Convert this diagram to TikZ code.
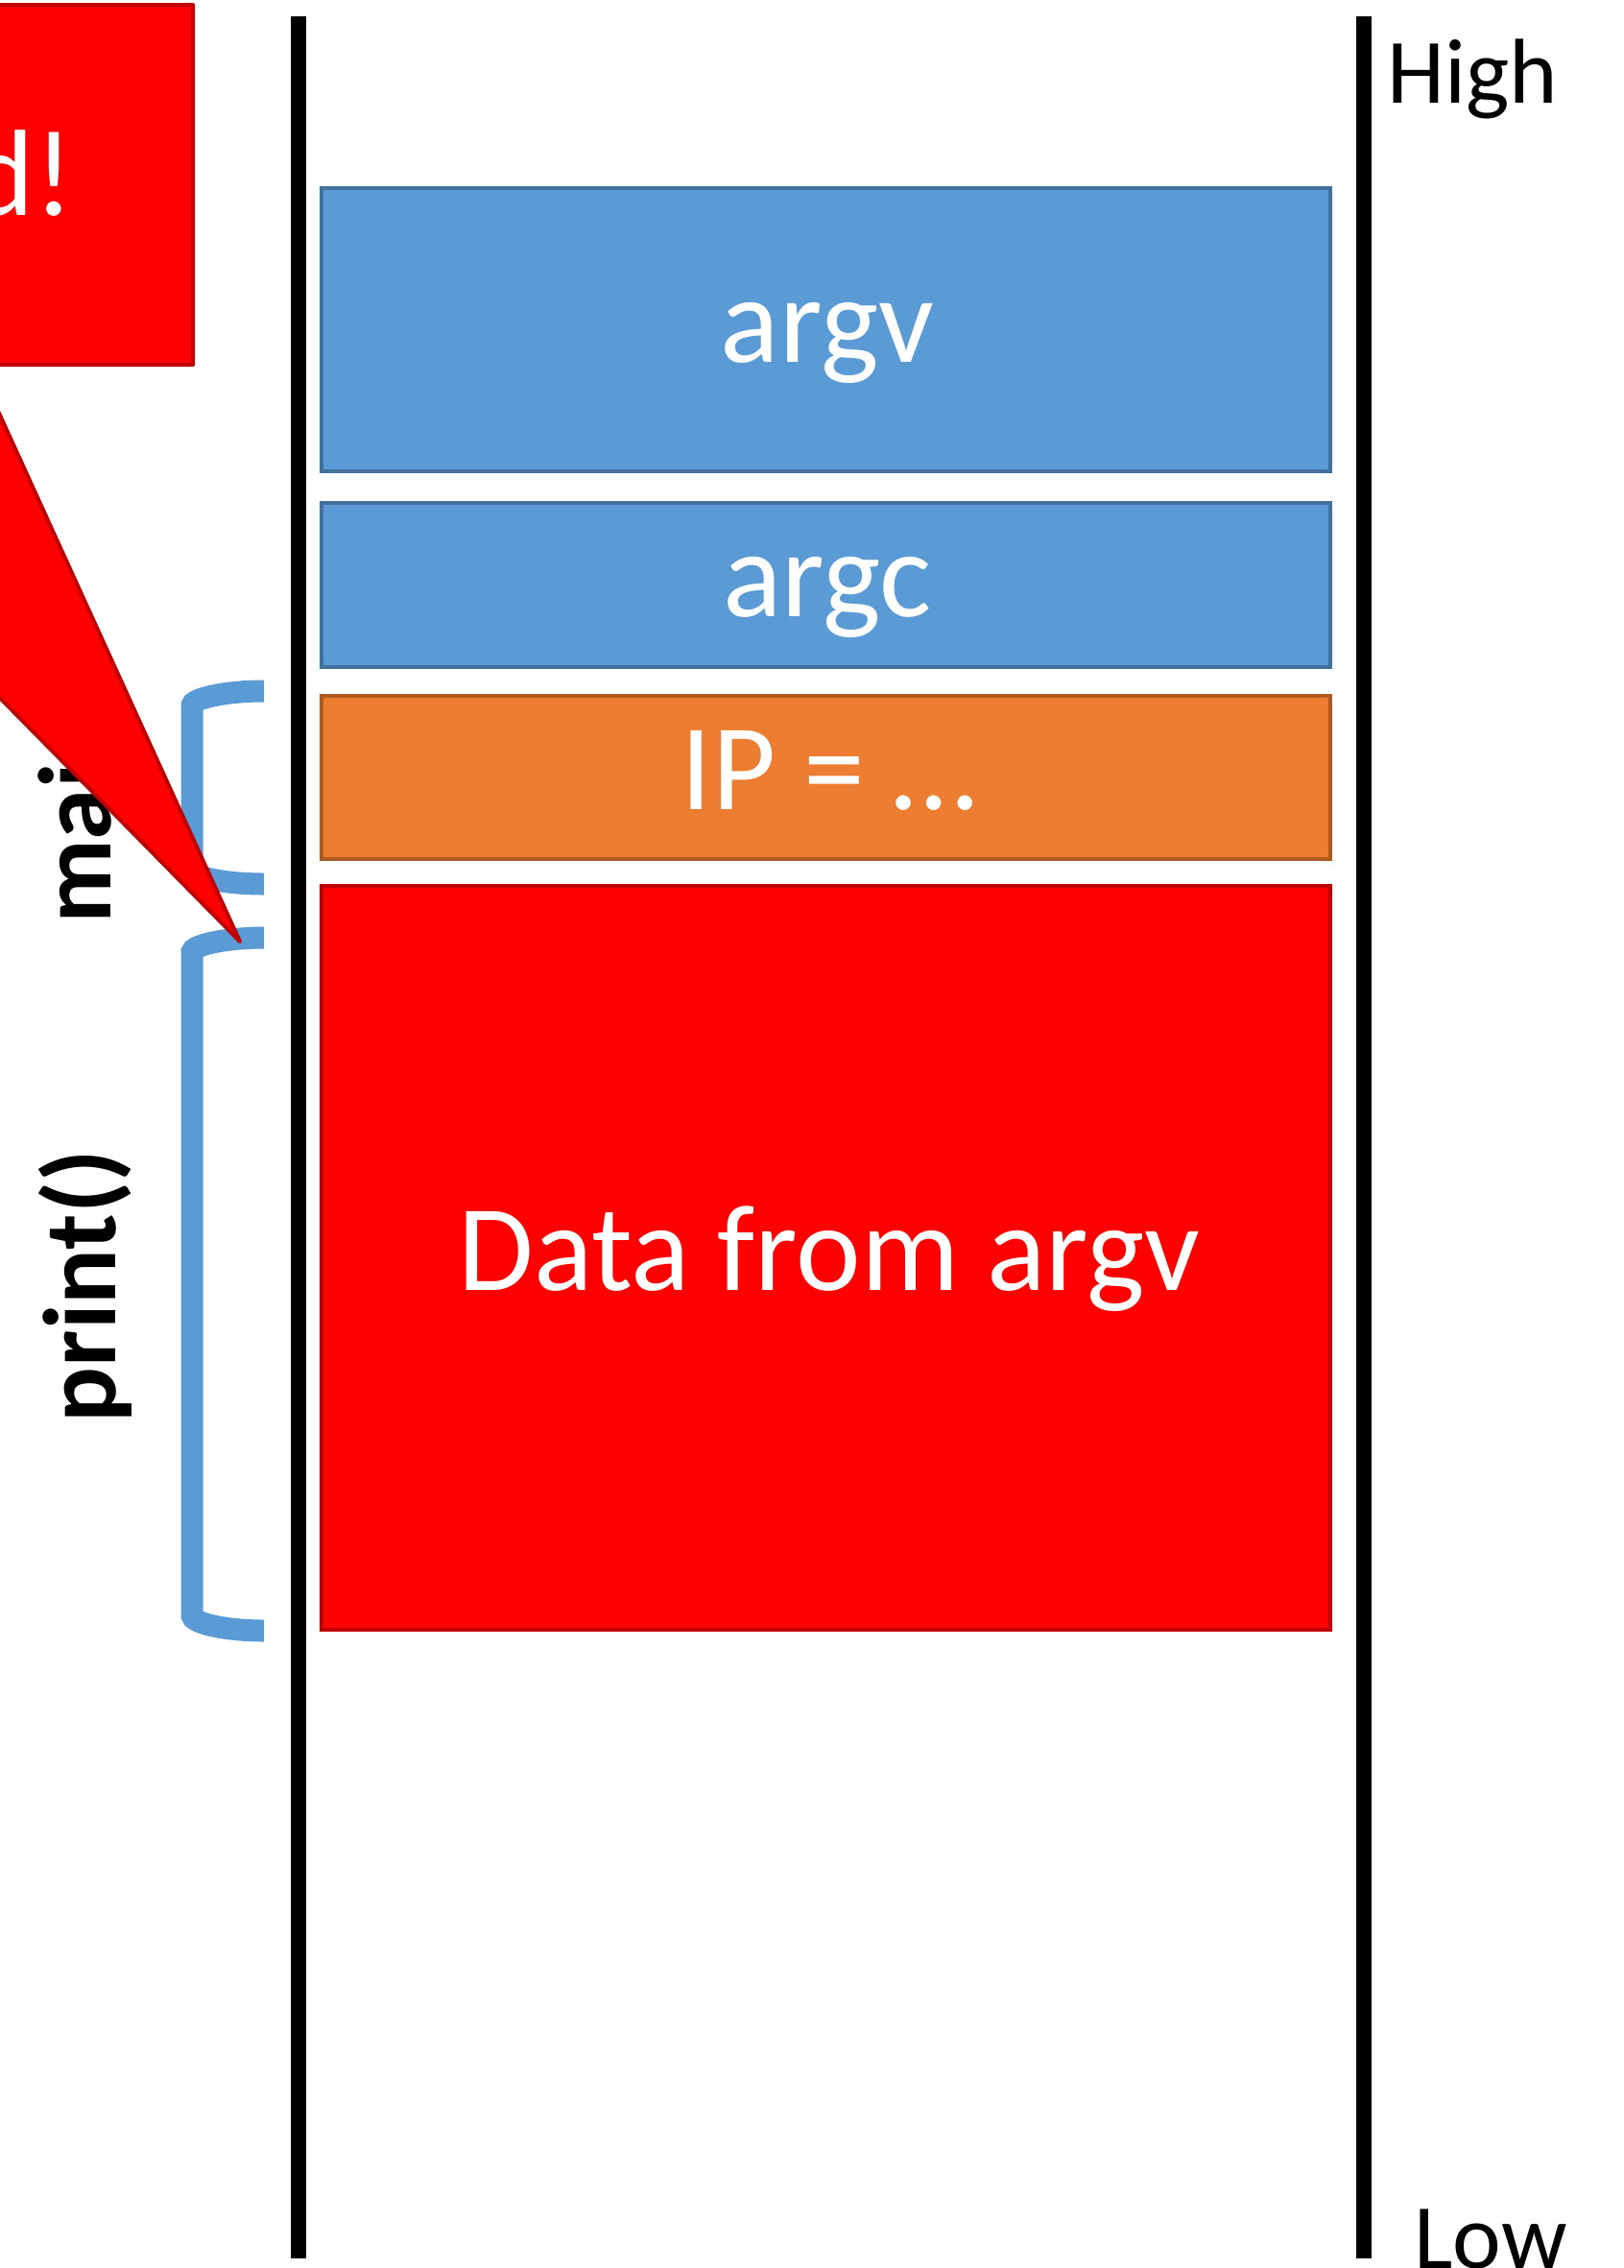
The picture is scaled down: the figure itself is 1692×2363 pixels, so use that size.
\documentclass[tikz,border=0pt]{standalone}
\usepackage{fontspec}
\setmainfont{Carlito}
\usetikzlibrary{fit}
\definecolor{blueF}{HTML}{5B9BD5}
\definecolor{blueD}{HTML}{41719C}
\definecolor{orangeF}{HTML}{ED7D31}
\definecolor{orangeD}{HTML}{AE5A21}
\definecolor{redF}{HTML}{FF0000}
\definecolor{redD}{HTML}{C00000}
\definecolor{brk}{HTML}{5B9BD5}
\begin{document}
\begin{tikzpicture}[x=0.5pt,y=-0.5pt,
  membox/.style={draw, line width=2.2pt, inner sep=0pt},
  boxlabel/.style={text=white, font=\fontsize{64}{70}\selectfont, anchor=base, inner sep=0pt},
  sidelabel/.style={text=black, font=\bfseries\fontsize{54}{60}\selectfont, rotate=90, anchor=base, inner sep=0pt},
  endlabel/.style={text=black, font=\fontsize{48}{54}\selectfont, anchor=base west, inner sep=0pt},
  wall/.style={line width=8pt, black},
  bracketline/.style={line width=11.5pt, brk, line cap=butt},
  callout/.style={fill=redF, draw=redD, line width=2pt, line join=round}]
\useasboundingbox (0,0) rectangle (1692,2363);
\clip (0,0) rectangle (1692,2363);
% walls
\coordinate (lwtop) at (311,17); \coordinate (lwbot) at (311,2353);
\coordinate (rwtop) at (1421,17); \coordinate (rwbot) at (1421,2353);
\draw[wall] (lwtop) -- (lwbot);
\draw[wall] (rwtop) -- (rwbot);
% memory boxes
\node[membox, fill=blueF, draw=blueD, fit={(335,196) (1386,491)}] (argvbox) {};
\node[membox, fill=blueF, draw=blueD, fit={(335,524) (1386,695)}] (argcbox) {};
\node[membox, fill=orangeF, draw=orangeD, fit={(335,725) (1386,895)}] (ipbox) {};
\node[membox, fill=redF, draw=redD, fit={(335,923) (1386,1698)}] (databox) {};
\node[boxlabel] (argvlbl) at (862,377) {argv};
\node[boxlabel] (argclbl) at (862,642) {argc};
\node[boxlabel] (iplbl) at (864,843) {IP = \dots};
\node[boxlabel] (datalbl) at (864,1344) {Data from argv};
% high / low
\node[endlabel] (highlbl) at (1445,107) {High};
\node[endlabel] (lowlbl) at (1473,2363) {Low};
% brackets
\draw[bracketline] (275,720) .. controls (234,720) and (200,728) .. (200,735) -- (200,906) .. controls (200,914) and (234,921) .. (275,921);
\draw[bracketline] (275,977) .. controls (234,977) and (200,985) .. (200,992) -- (200,1683) .. controls (200,1691) and (234,1699) .. (275,1699);
\node[sidelabel] (mainlbl) at (115,850) {main};
\node[sidelabel] (printlbl) at (120,1340) {print()};
% callout
\path[callout] (-400,5) -- (201,5) -- (201,380) -- (-24,380) -- (250,981) -- (-342,380) -- (-400,380) -- cycle;
\node[text=white, font=\fontsize{64}{70}\selectfont, anchor=base east, inner sep=0pt] (calloutlbl) at (78,224) {d!};
\end{tikzpicture}
\end{document}
